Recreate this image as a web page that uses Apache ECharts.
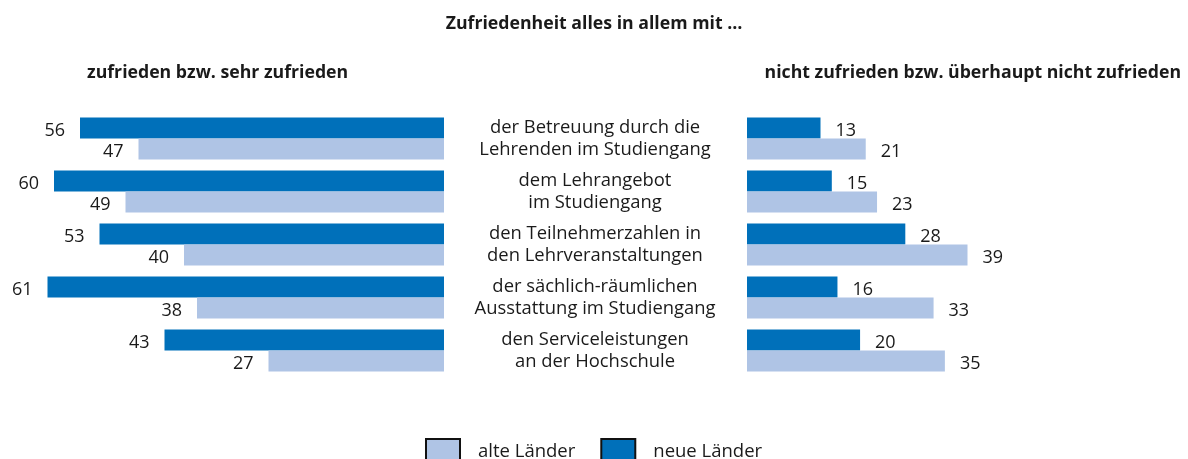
<!DOCTYPE html>
<html><head><meta charset="utf-8">
<script src="https://cdn.jsdelivr.net/npm/echarts@6/dist/echarts.min.js"></script>
<style>html,body{margin:0;padding:0;background:#fff}#c{width:1188px;height:459px}</style>
</head><body><div id="c"></div>
<script>
const categories = [
  'der Betreuung durch die\nLehrenden im Studiengang',
  'dem Lehrangebot\nim Studiengang',
  'den Teilnehmerzahlen in\nden Lehrveranstaltungen',
  'der sächlich-räumlichen\nAusstattung im Studiengang',
  'den Serviceleistungen\nan der Hochschule'
];
const zufriedenNeue = [56, 60, 53, 61, 43];
const zufriedenAlte = [47, 49, 40, 38, 27];
const nichtNeue = [13, 15, 28, 16, 20];
const nichtAlte = [21, 23, 39, 33, 35];
const seriesNames = ['alte Länder', 'neue Länder'];

const DARK = '#0070BA';
const LIGHT = '#AFC4E5';
const FONT = '"Open Sans"';

const chart = echarts.init(document.getElementById('c'));
const lbl = (pos) => ({show: true, position: pos, distance: 15, color: '#1a1a1a', fontSize: 18, fontFamily: FONT, offset:[0,3]});
const bold = {fontSize: 17.7, fontWeight: 'bold', color: '#1a1a1a', fontFamily: FONT};
chart.setOption({
  animation: false,
  textStyle: {fontFamily: FONT},
  title: [
    {text: 'Zufriedenheit alles in allem mit …', left: 'center', top: 10, textStyle: bold},
    {text: 'zufrieden bzw. sehr zufrieden', left: 82, top: 59, textStyle: bold},
    {text: 'nicht zufrieden bzw. überhaupt nicht zufrieden', right: 2, top: 59, textStyle: bold}
  ],
  legend: {
    data: seriesNames, left: 420, top: 433, itemWidth: 34, itemHeight: 26, itemGap: 25,
    icon: 'rect',
    itemStyle: {borderColor: '#111', borderWidth: 2},
    textStyle: {fontSize: 18.5, color: '#1a1a1a', fontFamily: FONT, padding: [0, 0, 0, 13]}
  },
  grid: [
    {left: 2, width: 442, top: 112, height: 265, containLabel: false},
    {left: 747, width: 441, top: 112, height: 265, containLabel: false}
  ],
  xAxis: [
    {gridIndex: 0, type: 'value', min: 0, max: 68, inverse: true, show: false},
    {gridIndex: 1, type: 'value', min: 0, max: 78, show: false}
  ],
  yAxis: [
    {gridIndex: 0, type: 'category', data: categories, inverse: true, show: false},
    {gridIndex: 1, type: 'category', data: categories, inverse: true,
     axisLine: {show: false}, axisTick: {show: false}, splitLine: {show: false},
     axisLabel: {align: 'center', margin: 152, fontSize: 18.4, lineHeight: 22, color: '#1a1a1a', fontFamily: FONT}}
  ],
  series: [
    {name: 'neue Länder', type: 'bar', xAxisIndex: 0, yAxisIndex: 0, data: zufriedenNeue,
     barWidth: 21, barGap: '0%', itemStyle: {color: DARK}, label: lbl('left')},
    {name: 'alte Länder', type: 'bar', xAxisIndex: 0, yAxisIndex: 0, data: zufriedenAlte,
     barWidth: 21, barGap: '0%', itemStyle: {color: LIGHT}, label: lbl('left')},
    {name: 'neue Länder', type: 'bar', xAxisIndex: 1, yAxisIndex: 1, data: nichtNeue,
     barWidth: 21, barGap: '0%', itemStyle: {color: DARK}, label: lbl('right')},
    {name: 'alte Länder', type: 'bar', xAxisIndex: 1, yAxisIndex: 1, data: nichtAlte,
     barWidth: 21, barGap: '0%', itemStyle: {color: LIGHT}, label: lbl('right')}
  ]
});
</script></body></html>
